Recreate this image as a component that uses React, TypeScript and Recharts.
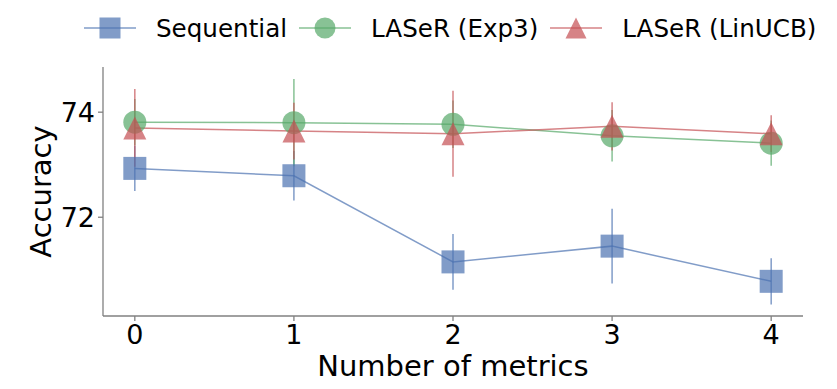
import { ErrorBar, Label, Line, LineChart, XAxis, YAxis } from 'recharts'

const metrics = [0, 1, 2, 3, 4]
const sequential = [72.93, 72.79, 71.15, 71.45, 70.78]
const sequentialErr = [0.43, 0.47, 0.53, 0.71, 0.44]
const exp3 = [73.81, 73.8, 73.77, 73.55, 73.41]
const exp3Err = [0.44, 0.83, 0.45, 0.49, 0.43]
const linucb = [73.7, 73.64, 73.59, 73.73, 73.59]
const linucbErr = [0.74, 0.54, 0.82, 0.46, 0.35]

const BLUE = '#4c72b0'
const GREEN = '#55a868'
const RED = '#c44e52'
const AXIS = '#808080'
const FONT = '"DejaVu Sans", sans-serif'
const ALPHA = 0.7
const MS = 23

const data = metrics.map((m, i) => ({
  m,
  seq: sequential[i],
  seqErr: sequentialErr[i],
  exp3: exp3[i],
  exp3Err: exp3Err[i],
  lin: linucb[i],
  linErr: linucbErr[i],
}))

type Shape = 'square' | 'circle' | 'triangle'

function marker(shape: Shape, color: string, cx: number, cy: number, size: number, key?: string | number) {
  const h = size / 2
  if (shape === 'square')
    return <rect key={key} x={cx - h} y={cy - h} width={size} height={size} fill={color} fillOpacity={ALPHA} />
  if (shape === 'circle')
    return <circle key={key} cx={cx} cy={cy} r={h} fill={color} fillOpacity={ALPHA} />
  return (
    <polygon
      key={key}
      points={`${cx},${cy - h} ${cx - h},${cy + h} ${cx + h},${cy + h}`}
      fill={color}
      fillOpacity={ALPHA}
    />
  )
}

const dotFor = (shape: Shape, color: string) => (p: any) =>
  marker(shape, color, p.cx, p.cy, MS, `${shape}-${p.index}`)

const SERIES: { name: string; color: string; shape: Shape }[] = [
  { name: 'Sequential', color: BLUE, shape: 'square' },
  { name: 'LASeR (Exp3)', color: GREEN, shape: 'circle' },
  { name: 'LASeR (LinUCB)', color: RED, shape: 'triangle' },
]

// legend sits above the axes, outside the plot area
function LegendBox() {
  return (
    <div
      style={{
        position: 'absolute',
        left: 0,
        top: 4,
        width: 837,
        display: 'flex',
        alignItems: 'center',
        paddingLeft: 84,
        fontFamily: FONT,
        fontSize: 24.6,
        color: '#000',
        height: 48,
        boxSizing: 'border-box',
        whiteSpace: 'nowrap',
      }}
    >
      {SERIES.map((s, i) => (
        <div key={s.name} style={{ display: 'flex', alignItems: 'center', marginRight: 12 }}>
          <svg width={52} height={24} style={{ marginRight: 20 }}>
            <line x1={0} y1={12} x2={52} y2={12} stroke={s.color} strokeOpacity={ALPHA} strokeWidth={1.5} />
            {marker(s.shape, s.color, 26, 12, 21, i)}
          </svg>
          <span>{s.name}</span>
        </div>
      ))}
    </div>
  )
}

const tickStyle = { fill: '#000', fontSize: 27, fontFamily: FONT }

export default function App() {
  return (
    <div style={{ position: 'absolute', left: 0, top: 0, width: 837, height: 389, background: '#fff' }}>
      <LineChart width={837} height={389} data={data} margin={{ top: 67, right: 34, left: 0, bottom: 0 }}>
        <XAxis
          dataKey="m"
          type="number"
          domain={[-0.2, 4.2]}
          ticks={metrics}
          allowDataOverflow
          height={73}
          stroke={AXIS}
          strokeWidth={1.3}
          tickSize={5}
          tickMargin={4}
          fontSize={27}
          tick={tickStyle}
        >
          <Label
            content={(p: any) => (
              <text
                x={p.viewBox.x + p.viewBox.width / 2}
                y={p.viewBox.y + 60}
                textAnchor="middle"
                fontSize={29}
                fontFamily={FONT}
                fill="#000"
              >
                Number of metrics
              </text>
            )}
          />
        </XAxis>
        <YAxis
          type="number"
          domain={[70.12, 74.86]}
          ticks={[72, 74]}
          allowDataOverflow
          width={103}
          stroke={AXIS}
          strokeWidth={1.3}
          tickSize={5}
          tickMargin={3}
          fontSize={27}
          tick={tickStyle}
        >
          <Label
            content={(p: any) => {
              const x = p.viewBox.x + 41
              const y = p.viewBox.y + p.viewBox.height / 2
              return (
                <text
                  x={x}
                  y={y}
                  transform={`rotate(-90 ${x} ${y})`}
                  textAnchor="middle"
                  dominantBaseline="central"
                  fontSize={29}
                  fontFamily={FONT}
                  fill="#000"
                >
                  Accuracy
                </text>
              )
            }}
          />
        </YAxis>
        <Line
          dataKey="seq"
          name="Sequential"
          stroke={BLUE}
          strokeOpacity={ALPHA}
          strokeWidth={1.5}
          dot={dotFor('square', BLUE)}
          isAnimationActive={false}
        >
          <ErrorBar dataKey="seqErr" width={0} stroke={BLUE} strokeOpacity={ALPHA} strokeWidth={1.5} direction="y" />
        </Line>
        <Line
          dataKey="exp3"
          name="LASeR (Exp3)"
          stroke={GREEN}
          strokeOpacity={ALPHA}
          strokeWidth={1.5}
          dot={dotFor('circle', GREEN)}
          isAnimationActive={false}
        >
          <ErrorBar dataKey="exp3Err" width={0} stroke={GREEN} strokeOpacity={ALPHA} strokeWidth={1.5} direction="y" />
        </Line>
        <Line
          dataKey="lin"
          name="LASeR (LinUCB)"
          stroke={RED}
          strokeOpacity={ALPHA}
          strokeWidth={1.5}
          dot={dotFor('triangle', RED)}
          isAnimationActive={false}
        >
          <ErrorBar dataKey="linErr" width={0} stroke={RED} strokeOpacity={ALPHA} strokeWidth={1.5} direction="y" />
        </Line>
      </LineChart>
      <LegendBox />
    </div>
  )
}
